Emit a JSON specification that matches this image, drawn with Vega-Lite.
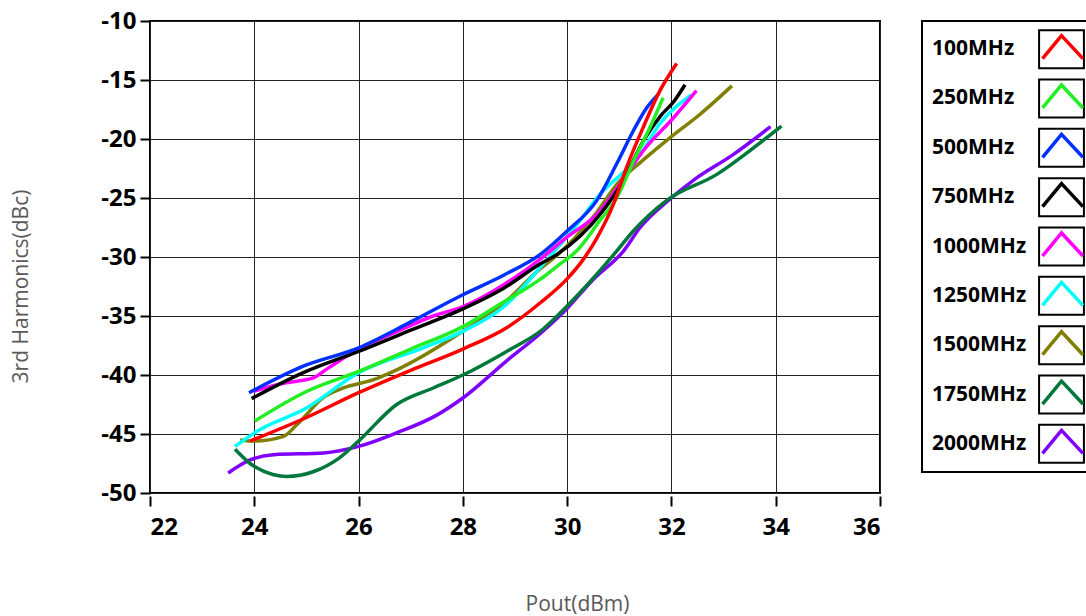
{
  "$schema": "https://vega.github.io/schema/vega-lite/v6.json",
  "padding": {"left": 9, "top": 8, "right": 0, "bottom": 0},
  "config": {
    "font": "Open Sans",
    "view": {"stroke": "#000", "strokeWidth": 2},
    "concat": {"spacing": 39}
  },
  "datasets": {
    "curves": [
      {"freq": "2000MHz", "pout": 23.5, "h3": -48.3},
      {"freq": "2000MHz", "pout": 23.92, "h3": -47.2},
      {"freq": "2000MHz", "pout": 24.37, "h3": -46.75},
      {"freq": "2000MHz", "pout": 25.33, "h3": -46.6},
      {"freq": "2000MHz", "pout": 26.0, "h3": -46.05},
      {"freq": "2000MHz", "pout": 26.73, "h3": -44.9},
      {"freq": "2000MHz", "pout": 27.5, "h3": -43.4},
      {"freq": "2000MHz", "pout": 28.0, "h3": -41.95},
      {"freq": "2000MHz", "pout": 28.84, "h3": -38.8},
      {"freq": "2000MHz", "pout": 29.48, "h3": -36.5},
      {"freq": "2000MHz", "pout": 29.99, "h3": -34.4},
      {"freq": "2000MHz", "pout": 30.5, "h3": -31.9},
      {"freq": "2000MHz", "pout": 31.08, "h3": -29.5},
      {"freq": "2000MHz", "pout": 31.4, "h3": -27.5},
      {"freq": "2000MHz", "pout": 31.97, "h3": -25.1},
      {"freq": "2000MHz", "pout": 32.42, "h3": -23.5},
      {"freq": "2000MHz", "pout": 33.19, "h3": -21.3},
      {"freq": "2000MHz", "pout": 33.9, "h3": -18.96},

      {"freq": "1750MHz", "pout": 23.63, "h3": -46.3},
      {"freq": "1750MHz", "pout": 23.92, "h3": -47.5},
      {"freq": "1750MHz", "pout": 24.37, "h3": -48.45},
      {"freq": "1750MHz", "pout": 24.62, "h3": -48.6},
      {"freq": "1750MHz", "pout": 25.13, "h3": -48.2},
      {"freq": "1750MHz", "pout": 25.64, "h3": -47.0},
      {"freq": "1750MHz", "pout": 26.0, "h3": -45.6},
      {"freq": "1750MHz", "pout": 26.73, "h3": -42.5},
      {"freq": "1750MHz", "pout": 27.43, "h3": -41.1},
      {"freq": "1750MHz", "pout": 28.0, "h3": -40.0},
      {"freq": "1750MHz", "pout": 28.84, "h3": -38.0},
      {"freq": "1750MHz", "pout": 29.54, "h3": -36.1},
      {"freq": "1750MHz", "pout": 29.99, "h3": -34.2},
      {"freq": "1750MHz", "pout": 30.5, "h3": -31.8},
      {"freq": "1750MHz", "pout": 30.95, "h3": -29.5},
      {"freq": "1750MHz", "pout": 31.27, "h3": -27.8},
      {"freq": "1750MHz", "pout": 31.91, "h3": -25.2},
      {"freq": "1750MHz", "pout": 32.87, "h3": -23.0},
      {"freq": "1750MHz", "pout": 33.5, "h3": -21.0},
      {"freq": "1750MHz", "pout": 34.11, "h3": -18.9},

      {"freq": "1500MHz", "pout": 23.73, "h3": -45.5},
      {"freq": "1500MHz", "pout": 24.01, "h3": -45.6},
      {"freq": "1500MHz", "pout": 24.56, "h3": -45.2},
      {"freq": "1500MHz", "pout": 24.82, "h3": -44.2},
      {"freq": "1500MHz", "pout": 25.33, "h3": -41.9},
      {"freq": "1500MHz", "pout": 25.71, "h3": -41.1},
      {"freq": "1500MHz", "pout": 26.29, "h3": -40.4},
      {"freq": "1500MHz", "pout": 26.67, "h3": -39.7},
      {"freq": "1500MHz", "pout": 28.0, "h3": -36.3},
      {"freq": "1500MHz", "pout": 28.84, "h3": -33.7},
      {"freq": "1500MHz", "pout": 29.48, "h3": -31.0},
      {"freq": "1500MHz", "pout": 29.74, "h3": -30.1},
      {"freq": "1500MHz", "pout": 30.5, "h3": -26.6},
      {"freq": "1500MHz", "pout": 31.0, "h3": -23.6},
      {"freq": "1500MHz", "pout": 31.4, "h3": -22.0},
      {"freq": "1500MHz", "pout": 31.97, "h3": -19.9},
      {"freq": "1500MHz", "pout": 32.55, "h3": -17.9},
      {"freq": "1500MHz", "pout": 33.16, "h3": -15.5},

      {"freq": "1250MHz", "pout": 23.63, "h3": -46.05},
      {"freq": "1250MHz", "pout": 24.04, "h3": -44.8},
      {"freq": "1250MHz", "pout": 25.0, "h3": -42.8},
      {"freq": "1250MHz", "pout": 26.0, "h3": -39.8},
      {"freq": "1250MHz", "pout": 27.24, "h3": -37.7},
      {"freq": "1250MHz", "pout": 28.0, "h3": -36.3},
      {"freq": "1250MHz", "pout": 28.84, "h3": -34.0},
      {"freq": "1250MHz", "pout": 29.48, "h3": -30.9},
      {"freq": "1250MHz", "pout": 30.25, "h3": -26.9},
      {"freq": "1250MHz", "pout": 30.57, "h3": -25.0},
      {"freq": "1250MHz", "pout": 31.4, "h3": -21.3},
      {"freq": "1250MHz", "pout": 31.78, "h3": -18.7},
      {"freq": "1250MHz", "pout": 32.39, "h3": -16.25},

      {"freq": "1000MHz", "pout": 23.98, "h3": -41.4},
      {"freq": "1000MHz", "pout": 24.56, "h3": -40.7},
      {"freq": "1000MHz", "pout": 25.13, "h3": -40.25},
      {"freq": "1000MHz", "pout": 25.39, "h3": -39.5},
      {"freq": "1000MHz", "pout": 26.0, "h3": -37.8},
      {"freq": "1000MHz", "pout": 26.7, "h3": -36.4},
      {"freq": "1000MHz", "pout": 27.43, "h3": -35.0},
      {"freq": "1000MHz", "pout": 28.0, "h3": -34.2},
      {"freq": "1000MHz", "pout": 28.8, "h3": -32.3},
      {"freq": "1000MHz", "pout": 29.48, "h3": -30.2},
      {"freq": "1000MHz", "pout": 30.0, "h3": -28.3},
      {"freq": "1000MHz", "pout": 30.57, "h3": -26.4},
      {"freq": "1000MHz", "pout": 31.14, "h3": -23.0},
      {"freq": "1000MHz", "pout": 31.46, "h3": -21.0},
      {"freq": "1000MHz", "pout": 32.04, "h3": -18.2},
      {"freq": "1000MHz", "pout": 32.48, "h3": -15.9},

      {"freq": "750MHz", "pout": 23.95, "h3": -42.0},
      {"freq": "750MHz", "pout": 24.94, "h3": -39.8},
      {"freq": "750MHz", "pout": 26.0, "h3": -38.0},
      {"freq": "750MHz", "pout": 27.0, "h3": -36.2},
      {"freq": "750MHz", "pout": 28.0, "h3": -34.4},
      {"freq": "750MHz", "pout": 28.8, "h3": -32.6},
      {"freq": "750MHz", "pout": 29.48, "h3": -30.6},
      {"freq": "750MHz", "pout": 29.8, "h3": -29.8},
      {"freq": "750MHz", "pout": 30.63, "h3": -26.4},
      {"freq": "750MHz", "pout": 31.08, "h3": -23.5},
      {"freq": "750MHz", "pout": 31.47, "h3": -20.1},
      {"freq": "750MHz", "pout": 31.8, "h3": -18.0},
      {"freq": "750MHz", "pout": 32.05, "h3": -16.8},
      {"freq": "750MHz", "pout": 32.26, "h3": -15.4},

      {"freq": "500MHz", "pout": 23.9, "h3": -41.5},
      {"freq": "500MHz", "pout": 24.94, "h3": -39.25},
      {"freq": "500MHz", "pout": 26.0, "h3": -37.7},
      {"freq": "500MHz", "pout": 27.0, "h3": -35.5},
      {"freq": "500MHz", "pout": 28.0, "h3": -33.2},
      {"freq": "500MHz", "pout": 28.8, "h3": -31.5},
      {"freq": "500MHz", "pout": 29.48, "h3": -29.8},
      {"freq": "500MHz", "pout": 30.0, "h3": -27.8},
      {"freq": "500MHz", "pout": 30.57, "h3": -25.2},
      {"freq": "500MHz", "pout": 30.95, "h3": -22.1},
      {"freq": "500MHz", "pout": 31.27, "h3": -19.3},
      {"freq": "500MHz", "pout": 31.52, "h3": -17.4},
      {"freq": "500MHz", "pout": 31.75, "h3": -16.2},

      {"freq": "250MHz", "pout": 24.01, "h3": -43.9},
      {"freq": "250MHz", "pout": 25.0, "h3": -41.4},
      {"freq": "250MHz", "pout": 26.0, "h3": -39.7},
      {"freq": "250MHz", "pout": 27.0, "h3": -37.8},
      {"freq": "250MHz", "pout": 28.0, "h3": -35.9},
      {"freq": "250MHz", "pout": 28.71, "h3": -34.0},
      {"freq": "250MHz", "pout": 29.48, "h3": -31.9},
      {"freq": "250MHz", "pout": 29.86, "h3": -30.6},
      {"freq": "250MHz", "pout": 30.18, "h3": -29.5},
      {"freq": "250MHz", "pout": 30.63, "h3": -26.9},
      {"freq": "250MHz", "pout": 30.95, "h3": -25.0},
      {"freq": "250MHz", "pout": 31.27, "h3": -21.9},
      {"freq": "250MHz", "pout": 31.59, "h3": -19.0},
      {"freq": "250MHz", "pout": 31.84, "h3": -16.5},

      {"freq": "100MHz", "pout": 23.92, "h3": -45.6},
      {"freq": "100MHz", "pout": 25.0, "h3": -43.6},
      {"freq": "100MHz", "pout": 26.0, "h3": -41.5},
      {"freq": "100MHz", "pout": 27.0, "h3": -39.6},
      {"freq": "100MHz", "pout": 28.0, "h3": -37.8},
      {"freq": "100MHz", "pout": 28.84, "h3": -36.0},
      {"freq": "100MHz", "pout": 29.48, "h3": -33.9},
      {"freq": "100MHz", "pout": 29.99, "h3": -31.9},
      {"freq": "100MHz", "pout": 30.31, "h3": -30.2},
      {"freq": "100MHz", "pout": 30.57, "h3": -28.4},
      {"freq": "100MHz", "pout": 30.89, "h3": -25.5},
      {"freq": "100MHz", "pout": 31.14, "h3": -22.4},
      {"freq": "100MHz", "pout": 31.46, "h3": -19.0},
      {"freq": "100MHz", "pout": 31.78, "h3": -15.9},
      {"freq": "100MHz", "pout": 32.1, "h3": -13.6}
    ],
    "legendRows": [
      {"freq": "100MHz"}, {"freq": "250MHz"}, {"freq": "500MHz"},
      {"freq": "750MHz"}, {"freq": "1000MHz"}, {"freq": "1250MHz"},
      {"freq": "1500MHz"}, {"freq": "1750MHz"}, {"freq": "2000MHz"}
    ]
  },
  "hconcat": [
    {
      "width": 730,
      "height": 472,
      "data": {"name": "curves"},
      "mark": {"type": "line", "interpolate": "monotone", "strokeWidth": 3.5},
      "encoding": {
        "x": {
          "field": "pout", "type": "quantitative",
          "scale": {"domain": [22, 36], "nice": false, "zero": false},
          "axis": {
            "values": [22, 24, 26, 28, 30, 32, 34, 36],
            "title": "Pout(dBm)",
            "offset": 3,
            "domain": false,
            "grid": true, "gridColor": "#222", "gridWidth": 1, "gridOpacity": 1,
            "ticks": true, "tickColor": "#000", "tickWidth": 2, "tickSize": 10,
            "labelFont": "Open Sans", "labelFontSize": 24, "labelFontWeight": "bold", "labelColor": "#000", "labelPadding": 9,
            "titleFont": "Open Sans", "titleFontSize": 21, "titleFontWeight": "normal", "titleColor": "#595959",
            "titleX": 427, "titleY": 114, "titleBaseline": "alphabetic", "titleAlign": "center"
          }
        },
        "y": {
          "field": "h3", "type": "quantitative",
          "scale": {"domain": [-50, -10], "nice": false, "zero": false},
          "axis": {
            "values": [-50, -45, -40, -35, -30, -25, -20, -15, -10],
            "labelExpr": "'-' + format(abs(datum.value), 'd')",
            "title": "3rd Harmonics(dBc)",
            "domain": false,
            "grid": true, "gridColor": "#222", "gridWidth": 1, "gridOpacity": 1,
            "ticks": true, "tickColor": "#000", "tickWidth": 2, "tickSize": 10,
            "labelFont": "Open Sans", "labelFontSize": 24, "labelFontWeight": "bold", "labelColor": "#000", "labelPadding": 4,
            "titleFont": "Open Sans", "titleFontSize": 21, "titleFontWeight": "normal", "titleColor": "#595959",
            "titleX": -123, "titleY": 265, "titleBaseline": "alphabetic", "titleAlign": "center", "titleAngle": -90
          }
        },
        "color": {
          "field": "freq", "type": "nominal",
          "scale": {
            "domain": ["100MHz", "250MHz", "500MHz", "750MHz", "1000MHz", "1250MHz", "1500MHz", "1750MHz", "2000MHz"],
            "range": ["#ff0000", "#22ee22", "#0030ff", "#000000", "#ff00ff", "#00ffff", "#808000", "#00783c", "#8000ff"]
          },
          "legend": null
        }
      }
    },
    {
      "width": 175,
      "height": 451,
      "data": {"name": "legendRows"},
      "encoding": {
        "y": {
          "field": "freq", "type": "nominal",
          "scale": {
            "domain": ["100MHz", "250MHz", "500MHz", "750MHz", "1000MHz", "1250MHz", "1500MHz", "1750MHz", "2000MHz"],
            "padding": 0.57
          },
          "axis": null
        }
      },
      "layer": [
        {
          "mark": {"type": "text", "align": "left", "baseline": "middle", "font": "Open Sans", "fontSize": 21, "fontWeight": "bold", "color": "#000"},
          "encoding": {
            "x": {"datum": 10, "type": "quantitative", "scale": {"domain": [0, 175], "nice": false, "zero": false}, "axis": null},
            "text": {"field": "freq"}
          }
        },
        {
          "mark": {"type": "point", "shape": "M-1.18,-1L1.18,-1L1.18,1L-1.18,1Z", "size": 1444, "filled": false, "stroke": "#000", "strokeWidth": 2, "opacity": 1},
          "encoding": {
            "x": {"datum": 139.5, "type": "quantitative"}
          }
        },
        {
          "mark": {"type": "point", "shape": "M-1.0,0.5L0,-0.71L1.13,0.5", "size": 1444, "filled": false, "strokeWidth": 3.5, "opacity": 1},
          "encoding": {
            "x": {"datum": 139.5, "type": "quantitative"},
            "color": {
              "field": "freq", "type": "nominal",
              "scale": {
                "domain": ["100MHz", "250MHz", "500MHz", "750MHz", "1000MHz", "1250MHz", "1500MHz", "1750MHz", "2000MHz"],
                "range": ["#ff0000", "#22ee22", "#0030ff", "#000000", "#ff00ff", "#00ffff", "#808000", "#00783c", "#8000ff"]
              },
              "legend": null
            }
          }
        }
      ]
    }
  ]
}
